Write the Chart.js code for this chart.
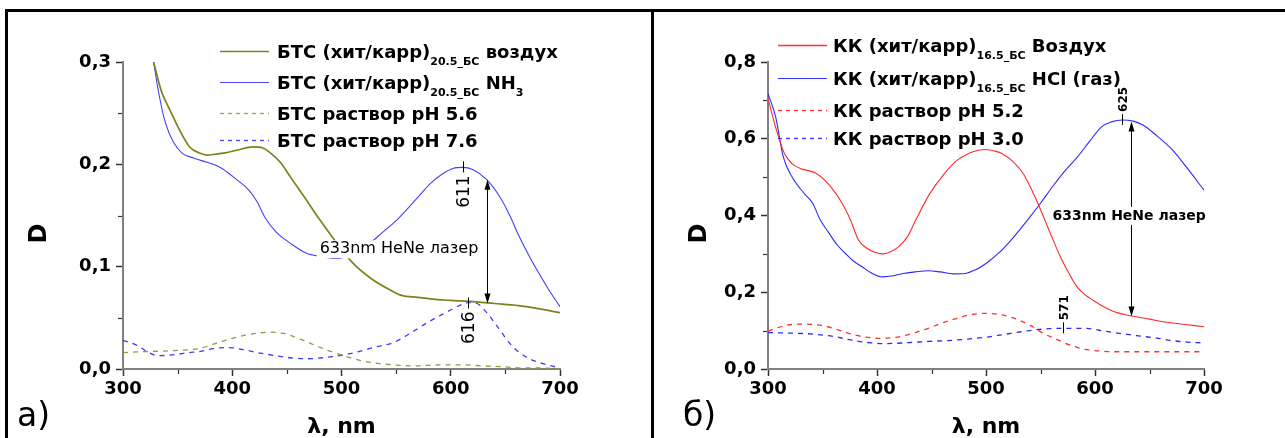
<!DOCTYPE html>
<html><head><meta charset="utf-8">
<script src="https://cdn.jsdelivr.net/npm/chart.js@4"></script>
<style>
html,body{margin:0;padding:0;background:#fff;overflow:hidden;width:1285px;height:438px}
#wrap{position:relative;width:1285px;height:438px;background:#fff}
.bd{position:absolute;background:#000}
#cA{position:absolute;left:0;top:0}
#cB{position:absolute;left:650px;top:0}
</style></head><body>
<div id="wrap">
<canvas id="cA" width="650" height="438"></canvas>
<canvas id="cB" width="635" height="438"></canvas>
<div class="bd" style="left:5px;top:9px;width:1280px;height:3px"></div>
<div class="bd" style="left:5px;top:9px;width:3px;height:429px"></div>
<div class="bd" style="left:651px;top:9px;width:3px;height:429px"></div>
</div>
<script>
// ---------- tick values ----------
const xTicks = [300, 400, 500, 600, 700];
const xMinor = [350, 450, 550, 650];
const yTicksA = [0, 0.1, 0.2, 0.3];
const yMinorA = [0.05, 0.15, 0.25];
const yTicksB = [0, 0.2, 0.4, 0.6, 0.8];
const yMinorB = [0.1, 0.3, 0.5, 0.7];

// ---------- panel а) БТС ----------
const lamA_air = [328, 335, 343, 352, 361, 370, 377, 385, 392, 405, 419, 428, 434, 444, 453, 466, 480, 495, 510, 529, 545, 555, 570, 586, 600, 617, 640, 662, 680, 700];
const dA_air   = [0.300, 0.272, 0.253, 0.233, 0.217, 0.211, 0.209, 0.210, 0.211, 0.214, 0.217, 0.216, 0.212, 0.202, 0.188, 0.168, 0.146, 0.124, 0.104, 0.087, 0.077, 0.072, 0.070, 0.068, 0.067, 0.066, 0.064, 0.062, 0.059, 0.055];
const lamA_nh3 = [328, 333, 339, 346, 354, 365, 377, 385, 392, 403, 415, 423, 430, 440, 453, 468, 481, 495, 510, 525, 537, 552, 570, 581, 593, 602, 611, 620, 633, 645, 654, 662, 672, 681, 690, 700];
const dA_nh3   = [0.300, 0.268, 0.240, 0.222, 0.211, 0.206, 0.202, 0.199, 0.195, 0.186, 0.175, 0.163, 0.148, 0.134, 0.123, 0.113, 0.110, 0.108, 0.112, 0.122, 0.133, 0.147, 0.168, 0.181, 0.191, 0.196, 0.197, 0.195, 0.185, 0.168, 0.150, 0.131, 0.110, 0.093, 0.077, 0.061];
const lamA_ph56 = [300, 320, 347, 370, 385, 400, 412, 423, 434, 445, 453, 465, 476, 488, 499, 515, 529, 548, 567, 590, 610, 630, 650, 665, 680, 700];
const dA_ph56   = [0.016, 0.017, 0.018, 0.020, 0.025, 0.030, 0.033, 0.035, 0.036, 0.035, 0.033, 0.028, 0.023, 0.018, 0.014, 0.009, 0.006, 0.004, 0.003, 0.004, 0.004, 0.003, 0.002, 0.001, 0.001, 0.000];
const lamA_ph76 = [300, 313, 322, 332, 347, 360, 370, 383, 396, 410, 423, 440, 453, 468, 483, 503, 516, 529, 548, 563, 578, 597, 610, 616, 624, 633, 645, 654, 663, 672, 682, 700];
const dA_ph76   = [0.028, 0.023, 0.017, 0.013, 0.014, 0.016, 0.017, 0.020, 0.021, 0.019, 0.016, 0.013, 0.011, 0.010, 0.011, 0.014, 0.017, 0.021, 0.026, 0.035, 0.045, 0.056, 0.063, 0.065, 0.064, 0.055, 0.038, 0.025, 0.016, 0.010, 0.006, 0.001];

// ---------- panel б) КК ----------
const lamB_air = [300, 307, 315, 322, 330, 337, 344, 352, 360, 368, 375, 383, 390, 398, 405, 412, 420, 428, 435, 448, 462, 474, 485, 493, 500, 508, 515, 525, 534, 545, 554, 561, 568, 576, 583, 591, 599, 608, 617, 627, 636, 650, 666, 683, 700];
const dB_air   = [0.705, 0.630, 0.562, 0.535, 0.522, 0.517, 0.510, 0.492, 0.466, 0.432, 0.393, 0.336, 0.316, 0.304, 0.300, 0.305, 0.319, 0.345, 0.385, 0.455, 0.510, 0.545, 0.563, 0.570, 0.572, 0.568, 0.561, 0.540, 0.510, 0.448, 0.388, 0.340, 0.294, 0.250, 0.216, 0.193, 0.178, 0.162, 0.150, 0.142, 0.137, 0.130, 0.122, 0.116, 0.110];
const lamB_hcl = [300, 307, 314, 322, 333, 341, 348, 356, 363, 371, 378, 386, 395, 405, 415, 424, 435, 447, 458, 470, 481, 490, 500, 512, 523, 538, 550, 561, 572, 584, 595, 606, 615, 625, 635, 644, 657, 671, 685, 700];
const dB_hcl   = [0.718, 0.657, 0.553, 0.501, 0.458, 0.432, 0.388, 0.354, 0.325, 0.301, 0.282, 0.267, 0.250, 0.240, 0.243, 0.249, 0.253, 0.256, 0.253, 0.248, 0.249, 0.258, 0.275, 0.303, 0.336, 0.388, 0.432, 0.475, 0.515, 0.553, 0.593, 0.631, 0.644, 0.649, 0.646, 0.636, 0.607, 0.571, 0.522, 0.466];
const lamB_ph52 = [300, 314, 328, 341, 352, 360, 370, 379, 390, 401, 412, 424, 435, 447, 458, 470, 485, 500, 515, 525, 534, 544, 553, 563, 572, 582, 591, 604, 617, 640, 670, 700];
const dB_ph52   = [0.099, 0.112, 0.117, 0.116, 0.112, 0.106, 0.097, 0.089, 0.083, 0.080, 0.081, 0.086, 0.095, 0.106, 0.118, 0.129, 0.141, 0.145, 0.141, 0.133, 0.123, 0.108, 0.092, 0.080, 0.068, 0.058, 0.051, 0.047, 0.045, 0.045, 0.045, 0.045];
const lamB_ph30 = [300, 314, 328, 341, 352, 360, 372, 383, 395, 405, 418, 431, 448, 465, 483, 500, 512, 523, 535, 545, 558, 572, 591, 604, 617, 630, 644, 658, 671, 685, 700];
const dB_ph30   = [0.095, 0.094, 0.093, 0.091, 0.088, 0.085, 0.078, 0.072, 0.068, 0.066, 0.067, 0.069, 0.072, 0.074, 0.078, 0.083, 0.088, 0.093, 0.098, 0.102, 0.105, 0.106, 0.106, 0.101, 0.095, 0.090, 0.085, 0.080, 0.074, 0.070, 0.068];

// ---------- annotation anchors (λ, D) ----------
const peaksA = [{lam: 611, d: 0.197, text: '611', side: 'below'}, {lam: 616, d: 0.064, text: '616', side: 'below'}];
const arrowA = {lam: 633, top: 0.185, bottom: 0.064};
const laserA = {lam: 480, d: 0.117, text: '633nm HeNe лазер'};
const peaksB = [{lam: 625, d: 0.649, text: '625', side: 'above'}, {lam: 571, d: 0.106, text: '571', side: 'above'}];
const arrowB = {lam: 633, top: 0.645, bottom: 0.137};
const laserB = {lam: 561, d: 0.399, text: '633nm HeNe лазер'};

const legendA = [
  {parts: [['БТС (хит/карр)'], ['20.5_БС', 1], [' воздух']], color: '#808020', dash: [], w: 1.6},
  {parts: [['БТС (хит/карр)'], ['20.5_БС', 1], [' NH'], ['3', 1]], color: '#4848ff', dash: [], w: 1.2},
  {parts: [['БТС раствор pH 5.6']], color: '#a0a040', dash: [4, 4], w: 1.3},
  {parts: [['БТС раствор pH 7.6']], color: '#4848ff', dash: [4, 4], w: 1.3}
];
const legendB = [
  {parts: [['КК (хит/карр)'], ['16.5_БС', 1], [' Воздух']], color: '#ff3030', dash: [], w: 1.3},
  {parts: [['КК (хит/карр)'], ['16.5_БС', 1], [' HCl (газ)']], color: '#3030ff', dash: [], w: 1.2},
  {parts: [['КК раствор pH 5.2']], color: '#ff3030', dash: [4, 4], w: 1.3},
  {parts: [['КК раствор pH 3.0']], color: '#3030ff', dash: [4, 4], w: 1.3}
];

const pts = (l, d) => l.map((v, i) => ({x: v, y: d[i]}));
const TICKFONT = {family: 'DejaVu Sans', weight: 'bold', size: 18};

function ds(l, d, color, width, dash) {
  return {data: pts(l, d), borderColor: color, borderWidth: width, borderDash: dash,
    pointRadius: 0, fill: false, cubicInterpolationMode: 'monotone', showLine: true};
}

function arrowHead(ctx, x, y, dir) {
  ctx.beginPath();
  ctx.moveTo(x, y);
  ctx.lineTo(x - 3, y - dir * 10);
  ctx.lineTo(x + 3, y - dir * 10);
  ctx.closePath();
  ctx.fill();
}

const deco = {
  id: 'deco',
  afterDatasetsDraw(chart, args, o) {
    const ctx = chart.ctx, xs = chart.scales.x, ys = chart.scales.y;
    ctx.save();
    // laser label with white background
    ctx.font = o.laserFont;
    const lx = xs.getPixelForValue(o.laser.lam), ly = ys.getPixelForValue(o.laser.d);
    const w = ctx.measureText(o.laser.text).width;
    ctx.fillStyle = '#fff';
    ctx.fillRect(lx - 3, ly - 9, w + 6, 18);
    // arrow
    const ax = Math.round(xs.getPixelForValue(o.arrow.lam)) + 0.5;
    const at = ys.getPixelForValue(o.arrow.top), ab = ys.getPixelForValue(o.arrow.bottom);
    ctx.strokeStyle = '#000'; ctx.fillStyle = '#000'; ctx.lineWidth = 1;
    const crosses = ax > lx - 3 && ax < lx + w + 3;
    if (crosses) {
      ctx.beginPath(); ctx.moveTo(ax, at + 4); ctx.lineTo(ax, ly - 9); ctx.stroke();
      ctx.beginPath(); ctx.moveTo(ax, ly + 9); ctx.lineTo(ax, ab - 4); ctx.stroke();
    } else {
      ctx.beginPath(); ctx.moveTo(ax, at + 4); ctx.lineTo(ax, ab - 4); ctx.stroke();
    }
    arrowHead(ctx, ax, at, -1);
    arrowHead(ctx, ax, ab, 1);
    ctx.textBaseline = 'middle'; ctx.textAlign = 'left';
    ctx.fillText(o.laser.text, lx, ly);
    // peak markers
    for (const p of o.peaks) {
      const px = Math.round(xs.getPixelForValue(p.lam)) + 0.5, py = ys.getPixelForValue(p.d);
      ctx.beginPath();
      ctx.moveTo(px, py - 6); ctx.lineTo(px, py + 5);
      ctx.stroke();
      ctx.save();
      ctx.font = o.peakFont;
      ctx.translate(px, p.side === 'below' ? py + 8 : py - 8);
      ctx.rotate(-Math.PI / 2);
      ctx.textBaseline = 'middle';
      ctx.textAlign = p.side === 'below' ? 'right' : 'left';
      ctx.fillText(p.text, 0, 1);
      ctx.restore();
    }
    ctx.restore();
  },
  afterDraw(chart, args, o) {
    const ctx = chart.ctx, xs = chart.scales.x, ys = chart.scales.y, ca = chart.chartArea;
    ctx.save();
    // minor ticks
    ctx.strokeStyle = '#333'; ctx.lineWidth = 1.2;
    for (const v of o.xMinor) {
      const px = Math.round(xs.getPixelForValue(v)) + 0.5;
      ctx.beginPath(); ctx.moveTo(px, ca.bottom + 1); ctx.lineTo(px, ca.bottom + 5); ctx.stroke();
    }
    for (const v of o.yMinor) {
      const py = Math.round(ys.getPixelForValue(v)) + 0.5;
      ctx.beginPath(); ctx.moveTo(ca.left - 1, py); ctx.lineTo(ca.left - 5, py); ctx.stroke();
    }
    // y title D
    ctx.fillStyle = '#000';
    ctx.save();
    ctx.translate(ca.left + o.dOff[0], (ca.top + ca.bottom) / 2 + o.dOff[1]);
    ctx.rotate(-Math.PI / 2);
    ctx.font = 'bold 24px "DejaVu Sans"';
    ctx.textAlign = 'center'; ctx.textBaseline = 'middle';
    ctx.fillText('D', 0, 0);
    ctx.restore();
    // panel letter
    ctx.font = '33px "DejaVu Sans"';
    ctx.textAlign = 'left'; ctx.textBaseline = 'alphabetic';
    ctx.fillText(o.letter, o.letterPos[0], o.letterPos[1]);
    // legend
    const L = o.legendBox;
    o.legend.forEach((row, i) => {
      const y = L.rows[i];
      ctx.strokeStyle = row.color; ctx.lineWidth = row.w; ctx.setLineDash(row.dash);
      ctx.beginPath(); ctx.moveTo(L.x1, y + 0.5); ctx.lineTo(L.x2, y + 0.5); ctx.stroke();
      ctx.setLineDash([]);
      let tx = L.tx;
      ctx.fillStyle = '#000'; ctx.textAlign = 'left'; ctx.textBaseline = 'alphabetic';
      for (const [t, sub] of row.parts) {
        ctx.font = sub ? 'bold 11px "DejaVu Sans"' : 'bold 18px "DejaVu Sans"';
        ctx.fillText(t, tx, y + 7 + (sub ? 7 : 0));
        tx += ctx.measureText(t).width;
      }
    });
    ctx.restore();
  }
};

function makeChart(id, datasets, yTicks, yMax, deco_opts) {
  return new Chart(document.getElementById(id), {
    type: 'line',
    data: {datasets},
    plugins: [deco],
    options: {
      responsive: false, animation: false, devicePixelRatio: 1,
      layout: {padding: {left: 0, top: 62, right: deco_opts.padRight, bottom: 0}},
      plugins: {legend: {display: false}, tooltip: {enabled: false}, deco: deco_opts},
      scales: {
        x: {
          type: 'linear', min: 300, max: 700,
          afterBuildTicks: s => { s.ticks = xTicks.map(v => ({value: v})); },
          afterFit: s => { s.height = 69; },
          ticks: {font: TICKFONT, color: '#000', padding: 3, maxRotation: 0, autoSkip: false, callback: v => String(v)},
          grid: {drawOnChartArea: false, tickLength: 7, tickColor: '#333', tickWidth: 1.5},
          border: {color: '#808080', width: 2},
          title: {display: true, text: 'λ, nm', color: '#000', font: {family: 'DejaVu Sans', weight: 'bold', size: 22, lineHeight: 1}, padding: {top: 0, bottom: 0}}
        },
        y: {
          type: 'linear', min: 0, max: yMax,
          afterBuildTicks: s => { s.ticks = yTicks.map(v => ({value: v})); },
          afterFit: s => { s.width = deco_opts.yWidth; },
          ticks: {font: TICKFONT, color: '#000', padding: 5, autoSkip: false, callback: v => v.toFixed(1).replace('.', ',')},
          grid: {drawOnChartArea: false, tickLength: 7, tickColor: '#333', tickWidth: 1.5},
          border: {color: '#808080', width: 2}
        }
      }
    }
  });
}

makeChart('cA', [
  ds(lamA_air, dA_air, '#808020', 1.7, []),
  ds(lamA_nh3, dA_nh3, '#4040ff', 1.1, []),
  ds(lamA_ph56, dA_ph56, '#98983a', 1.3, [5, 5]),
  ds(lamA_ph76, dA_ph76, '#3a3aff', 1.3, [5, 5])
], yTicksA, 0.3, {
  padRight: 90, yWidth: 123, xMinor, yMinor: yMinorA,
  peaks: peaksA, arrow: arrowA, laser: laserA,
  laserFont: '16px "DejaVu Sans"', peakFont: '17px "DejaVu Sans"',
  dOff: [-83, 18], letter: 'а)', letterPos: [17, 426],
  legend: legendA, legendBox: {x1: 220, x2: 269, tx: 277, rows: [51, 82, 113, 140]}
});

makeChart('cB', [
  ds(lamB_air, dB_air, '#ff2a2a', 1.1, []),
  ds(lamB_hcl, dB_hcl, '#2a2aff', 1.1, []),
  ds(lamB_ph52, dB_ph52, '#ff3030', 1.3, [5, 5]),
  ds(lamB_ph30, dB_ph30, '#2a2aff', 1.3, [5, 5])
], yTicksB, 0.8, {
  padRight: 81, yWidth: 118, xMinor, yMinor: yMinorB,
  peaks: peaksB, arrow: arrowB, laser: laserB,
  laserFont: 'bold 14px "DejaVu Sans"', peakFont: 'bold 12px "DejaVu Sans"',
  dOff: [-68, 18], letter: 'б)', letterPos: [33, 426],
  legend: legendB, legendBox: {x1: 128, x2: 177, tx: 183, rows: [45, 78, 110, 138]}
});
</script>
</body></html>
